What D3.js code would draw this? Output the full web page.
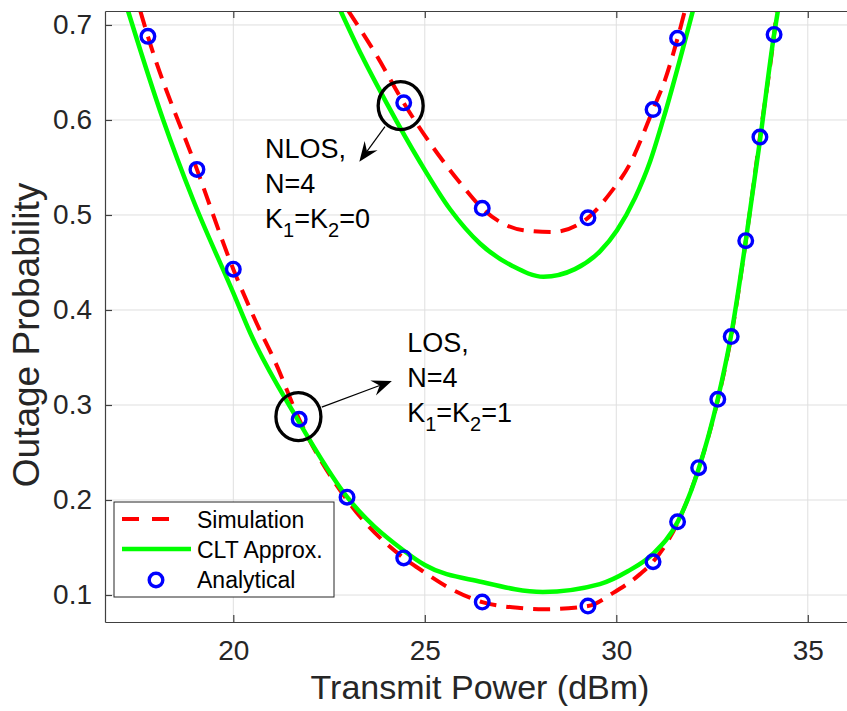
<!DOCTYPE html>
<html lang="en">
<head>
<meta charset="UTF-8">
<title>Outage Probability</title>
<style>
  body { margin: 0; background: #fff; }
  text { font-family: "Liberation Sans", Arial, Helvetica, sans-serif; fill: #262626; }
</style>
</head>
<body>
<svg width="847" height="711"></svg>
<script src="https://cdn.jsdelivr.net/npm/d3@7"></script>
<script>
// tick values
var xTicks = [20, 25, 30, 35]
var yTicks = [0.1, 0.2, 0.3, 0.4, 0.5, 0.6, 0.7]

// LOS, N=4, K1=K2=1
var losSimX = [17.57, 17.77, 19.05, 20, 20.61, 21.09, 21.72, 22.97, 24.45, 24.95, 25.57, 26.5, 27.49, 28.1, 29.26, 29.91, 30.62, 30.96, 31.6, 32.15, 32.65, 33.0, 33.38, 33.75, 34.12, 34.19]
var losSimY = [0.715, 0.688, 0.548, 0.443, 0.386, 0.3456, 0.285, 0.2, 0.139, 0.125, 0.109, 0.0926, 0.0863, 0.085, 0.0884, 0.102, 0.122, 0.135, 0.176, 0.233, 0.305, 0.372, 0.472, 0.582, 0.69, 0.715]
var losCltX = [17.25, 18.17, 18.95, 20, 20.44, 21.64, 22.97, 24.43, 25.0, 26.49, 28.08, 29.57, 30.3, 30.95, 31.6, 32.15, 32.65, 32.99, 33.38, 33.75, 34.12, 34.22]
var losCltY = [0.715, 0.6, 0.516, 0.418, 0.376, 0.2874, 0.2032, 0.1474, 0.1316, 0.1137, 0.1032, 0.1115, 0.125, 0.143, 0.1768, 0.2326, 0.3063, 0.3716, 0.4726, 0.578, 0.69, 0.715]
var losAnaX = [17.77, 19.05, 20, 21.72, 22.97, 24.45, 26.5, 29.26, 30.96, 31.6, 32.15, 32.65, 33.0, 33.38, 33.75, 34.12]
var losAnaY = [0.688, 0.548, 0.443, 0.285, 0.203, 0.139, 0.0926, 0.0884, 0.135, 0.177, 0.234, 0.306, 0.372, 0.473, 0.582, 0.690]

// NLOS, N=4, K1=K2=0
var nlosSimX = [23.0, 23.74, 24.45, 26.0, 26.5, 27.57, 28.31, 29.26, 29.84, 30.36, 30.96, 31.27, 31.6, 31.79]
var nlosSimY = [0.715, 0.668, 0.618, 0.53, 0.507, 0.484, 0.482, 0.497, 0.523, 0.554, 0.611, 0.642, 0.686, 0.715]
var nlosCltX = [22.8, 23.35, 24.0, 24.87, 25.66, 26.44, 27.3, 28.1, 28.92, 29.58, 30.02, 30.49, 30.88, 31.22, 32.0]
var nlosCltY = [0.715, 0.668, 0.618, 0.556, 0.506, 0.47, 0.446, 0.435, 0.443, 0.462, 0.484, 0.518, 0.556, 0.6, 0.715]
var nlosAnaX = [24.45, 26.5, 29.26, 30.96, 31.6]
var nlosAnaY = [0.618, 0.507, 0.497, 0.611, 0.686]

var svg = d3.select('svg')
var pL = 105, pR = 848, pT = 11, pB = 622

var x = d3.scaleLinear().domain([16.65, 36.05]).range([pL, pR])
var y = d3.scaleLinear().domain([0.0716, 0.7147]).range([pB, pT])

svg.append('defs').append('clipPath').attr('id', 'plot')
    .append('rect')
    .attr('x', pL).attr('y', pT)
    .attr('width', pR - pL).attr('height', pB - pT)

// grid
svg.append('g').selectAll('line').data(xTicks).enter().append('line')
    .attr('x1', d => x(d)).attr('x2', d => x(d))
    .attr('y1', pT).attr('y2', pB)
    .attr('stroke', '#dfdfdf').attr('stroke-width', 1)
svg.append('g').selectAll('line').data(yTicks).enter().append('line')
    .attr('x1', pL).attr('x2', pR)
    .attr('y1', d => y(d)).attr('y2', d => y(d))
    .attr('stroke', '#dfdfdf').attr('stroke-width', 1)

function pts(xs, ys) { return xs.map((v, i) => [v, ys[i]]) }

var line = d3.line()
    .x(d => x(d[0])).y(d => y(d[1]))
    .curve(d3.curveMonotoneX)

var curves = svg.append('g').attr('clip-path', 'url(#plot)')

// simulation
;[pts(losSimX, losSimY), pts(nlosSimX, nlosSimY)].forEach(function (p) {
    curves.append('path')
        .attr('d', line(p))
        .attr('fill', 'none')
        .attr('stroke', '#ff0000')
        .attr('stroke-width', 4)
        .attr('stroke-dasharray', '17,10')
})
// CLT approx
;[pts(losCltX, losCltY), pts(nlosCltX, nlosCltY)].forEach(function (p) {
    curves.append('path')
        .attr('d', line(p))
        .attr('fill', 'none')
        .attr('stroke', '#00ff00')
        .attr('stroke-width', 4.5)
})
// analytical
curves.append('g').selectAll('circle')
    .data(pts(losAnaX, losAnaY).concat(pts(nlosAnaX, nlosAnaY)))
    .enter().append('circle')
    .attr('cx', d => x(d[0])).attr('cy', d => y(d[1]))
    .attr('r', 6.8)
    .attr('fill', 'none')
    .attr('stroke', '#0000ff')
    .attr('stroke-width', 3.4)

// axes
var xAxis = svg.append('g').attr('transform', 'translate(0,' + pB + ')')
    .call(d3.axisBottom(x).tickValues(xTicks).tickSizeInner(-7).tickSizeOuter(0).tickPadding(18))
var xTop = svg.append('g').attr('transform', 'translate(0,' + pT + ')')
    .call(d3.axisTop(x).tickValues(xTicks).tickSizeInner(-7).tickSizeOuter(0).tickFormat(''))
var yAxis = svg.append('g').attr('transform', 'translate(' + pL + ',0)')
    .call(d3.axisLeft(y).tickValues(yTicks).tickSizeInner(-7).tickSizeOuter(0).tickPadding(13).tickFormat(d3.format('.1f')))

;[xAxis, xTop, yAxis].forEach(function (g) {
    g.select('.domain').attr('stroke', '#404040').attr('stroke-width', 1.2)
    g.selectAll('.tick line').attr('stroke', '#404040').attr('stroke-width', 1.2)
    g.selectAll('.tick text').attr('font-size', 28).attr('fill', '#262626')
        .style('font-family', '"Liberation Sans", Arial, sans-serif')
})

svg.append('text')
    .attr('x', 480).attr('y', 699)
    .attr('text-anchor', 'middle')
    .attr('font-size', 34)
    .text('Transmit Power (dBm)')
svg.append('text')
    .attr('transform', 'translate(39,335) rotate(-90)')
    .attr('text-anchor', 'middle')
    .attr('font-size', 37)
    .text('Outage Probability')

// annotations
function arrow(x1, y1, x2, y2) {
    var a = Math.atan2(y2 - y1, x2 - x1), L = 20, w = 8, n = 13
    var bx = x2 - L * Math.cos(a), by = y2 - L * Math.sin(a)
    svg.append('line')
        .attr('x1', x1).attr('y1', y1)
        .attr('x2', x2 - n * Math.cos(a)).attr('y2', y2 - n * Math.sin(a))
        .attr('stroke', '#000').attr('stroke-width', 1.2)
    var p = [
        [x2, y2],
        [bx + w * Math.sin(a), by - w * Math.cos(a)],
        [x2 - n * Math.cos(a), y2 - n * Math.sin(a)],
        [bx - w * Math.sin(a), by + w * Math.cos(a)]
    ]
    svg.append('polygon').attr('points', p.join(' ')).attr('fill', '#000')
}

function ring(cx, cy) {
    svg.append('ellipse')
        .attr('cx', x(cx)).attr('cy', y(cy))
        .attr('rx', 22.5).attr('ry', 24)
        .attr('fill', 'none').attr('stroke', '#000').attr('stroke-width', 3.3)
}

function label(tx, ty, head, k) {
    var g = svg.append('g').attr('font-size', 27)
    g.append('text').attr('x', x(tx)).attr('y', y(ty)).style('fill', '#000').text(head)
    g.append('text').attr('x', x(tx)).attr('y', y(ty) + 35).style('fill', '#000').text('N=4')
    var t = g.append('text').attr('x', x(tx)).attr('y', y(ty) + 70).style('fill', '#000')
    t.append('tspan').text('K')
    t.append('tspan').attr('dy', 9).attr('font-size', 20).text('1')
    t.append('tspan').attr('dy', -9).text('=K')
    t.append('tspan').attr('dy', 9).attr('font-size', 20).text('2')
    t.append('tspan').attr('dy', -9).text('=' + k)
}

ring(24.37, 0.615)
arrow(x(23.96), y(0.593), x(23.29), y(0.556))
label(20.83, 0.56, 'NLOS,', 0)

ring(21.70, 0.2877)
arrow(x(22.31), y(0.2977), x(24.14), y(0.3253))
label(24.54, 0.3558, 'LOS,', 1)

// legend
var lg = svg.append('g').attr('transform', 'translate(114,502)')
lg.append('rect').attr('width', 220).attr('height', 95)
    .attr('fill', '#fff').attr('stroke', '#262626').attr('stroke-width', 1)
lg.append('line').attr('x1', 8).attr('x2', 63).attr('y1', 17).attr('y2', 17)
    .attr('stroke', '#ff0000').attr('stroke-width', 4).attr('stroke-dasharray', '17,13')
lg.append('line').attr('x1', 8).attr('x2', 77).attr('y1', 47).attr('y2', 47)
    .attr('stroke', '#00ff00').attr('stroke-width', 4.5)
lg.append('circle').attr('cx', 42).attr('cy', 78).attr('r', 6.8)
    .attr('fill', 'none').attr('stroke', '#0000ff').attr('stroke-width', 3.4)
var names = ['Simulation', 'CLT Approx.', 'Analytical']
lg.selectAll('text.nm').data(names).enter().append('text')
    .attr('class', 'nm')
    .attr('x', 83).attr('y', (d, i) => 26 + i * 30)
    .attr('font-size', 23)
    .style('fill', '#000')
    .text(d => d)
</script>
</body>
</html>
